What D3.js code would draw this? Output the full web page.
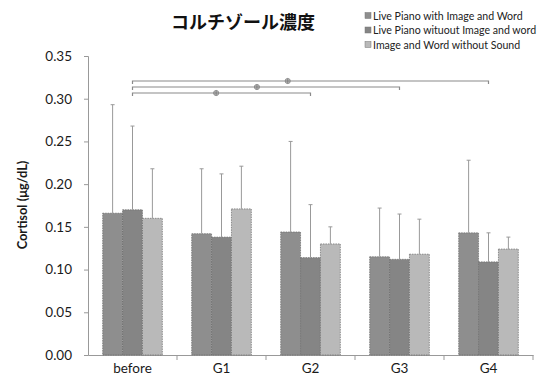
<!DOCTYPE html>
<html><head><meta charset="utf-8">
<script src="https://cdn.jsdelivr.net/npm/d3@7"></script>
<style>body{margin:0;background:#fff}svg{display:block}</style>
</head><body><svg id="c" width="552" height="382"></svg>
<script>
const title = "コルチゾール濃度";
const yTitle = "Cortisol (μg/dL)";
const categories = ["before", "G1", "G2", "G3", "G4"];
const seriesNames = ["Live Piano with Image and Word", "Live Piano wituout Image and word", "Image and Word without Sound"];
const seriesColors = ["#8e8e8e", "#858585", "#b9b9b9"];
const s1 = [0.166, 0.142, 0.144, 0.115, 0.143];
const s2 = [0.170, 0.138, 0.114, 0.112, 0.109];
const s3 = [0.160, 0.171, 0.130, 0.118, 0.124];
const e1 = [0.293, 0.218, 0.250, 0.172, 0.228];
const e2 = [0.268, 0.212, 0.176, 0.165, 0.143];
const e3 = [0.218, 0.221, 0.150, 0.159, 0.138];
const yTicks = [0, 0.05, 0.10, 0.15, 0.20, 0.25, 0.30, 0.35];
const brackets = [
  {from: "before", to: "G2", level: 0, at: 0.47},
  {from: "before", to: "G3", level: 1, at: 0.466},
  {from: "before", to: "G4", level: 2, at: 0.436}
];

const values = [s1, s2, s3];
const errs = [e1, e2, e3];
const svg = d3.select("#c");
const ff = "Lato, 'Open Sans', sans-serif";

const x = d3.scaleBand().domain(categories).range([88, 533]).paddingInner(0.33).paddingOuter(0.165);
const xs = d3.scaleBand().domain([0,1,2]).range([0, x.bandwidth()]);
const y = d3.scaleLinear().domain([0, 0.35]).range([355, 56]);

// title
svg.append("text").attr("x", 243).attr("y", 29).attr("text-anchor", "middle")
  .attr("font-family", "'Noto Sans CJK JP', sans-serif").attr("font-weight", "bold")
  .attr("font-size", 18).attr("fill", "#111").text(title);

// legend
const lg = svg.append("g");
seriesNames.forEach((n, i) => {
  const yy = 16 + i * 14.5;
  lg.append("rect").attr("x", 365).attr("y", yy - 3.5).attr("width", 6).attr("height", 6)
    .attr("fill", seriesColors[i]).attr("stroke", "#777").attr("stroke-width", 0.5);
  lg.append("text").attr("x", 373).attr("y", yy + 3.8).attr("font-family", ff)
    .attr("font-size", 10.6).attr("fill", "#222").text(n);
});

// y axis
const ya = svg.append("g").attr("transform", "translate(88,0)")
  .call(d3.axisLeft(y).tickValues(yTicks).tickFormat(d3.format(".2f")).tickSize(4).tickPadding(12));
ya.select(".domain").attr("stroke", "#999");
ya.selectAll(".tick line").attr("stroke", "#999");
ya.selectAll("text").attr("font-family", ff).attr("font-size", 13.5).attr("fill", "#1a1a1a");

svg.append("text").attr("transform", "translate(27,205) rotate(-90)").attr("text-anchor", "middle")
  .attr("font-family", ff).attr("font-weight", "bold").attr("font-size", 12.8).attr("fill", "#1a1a1a").text(yTitle);

// x axis
const xa = svg.append("g").attr("transform", "translate(0,355)")
  .call(d3.axisBottom(x).tickSize(0).tickPadding(8));
xa.select(".domain").attr("stroke", "#999");
xa.selectAll("text").attr("font-family", ff).attr("font-size", 13.5).attr("fill", "#1a1a1a");
const step = x.step();
const bounds = categories.map(c => x(c) - (step - x.bandwidth()) / 2).concat([533]);
svg.append("g").selectAll("line").data(bounds.slice(1)).join("line")
  .attr("x1", d => d).attr("x2", d => d).attr("y1", 355).attr("y2", 360).attr("stroke", "#999");

// bars
values.forEach((vals, si) => {
  const g = svg.append("g");
  g.selectAll("rect").data(categories).join("rect")
    .attr("x", c => x(c) + xs(si)).attr("width", xs.bandwidth())
    .attr("y", (c, i) => y(vals[i])).attr("height", (c, i) => y(0) - y(vals[i]))
    .attr("fill", seriesColors[si]).attr("stroke", "#6a6a6a").attr("stroke-width", 0.7)
    .attr("stroke-dasharray", "1.5,1");
  const cx = c => x(c) + xs(si) + xs.bandwidth() / 2;
  g.selectAll("line.e").data(categories).join("line").attr("class", "e")
    .attr("x1", cx).attr("x2", cx)
    .attr("y1", (c, i) => y(vals[i])).attr("y2", (c, i) => y(errs[si][i]))
    .attr("stroke", "#999").attr("stroke-width", 1);
  g.selectAll("line.c").data(categories).join("line").attr("class", "c")
    .attr("x1", c => cx(c) - 2).attr("x2", c => cx(c) + 2)
    .attr("y1", (c, i) => y(errs[si][i])).attr("y2", (c, i) => y(errs[si][i]))
    .attr("stroke", "#999").attr("stroke-width", 1);
});

// brackets
const bx = c => x(c) + xs(1) + xs.bandwidth() / 2;
brackets.forEach(b => {
  const yy = 93 - b.level * 6;
  const x1 = bx(b.from), x2 = bx(b.to);
  svg.append("path").attr("d", `M${x1},${yy + 3}V${yy}H${x2}V${yy + 3}`)
    .attr("fill", "none").attr("stroke", "#8a8a8a").attr("stroke-width", 1.2);
  const mx = x1 + (x2 - x1) * b.at;
  svg.append("circle").attr("cx", mx).attr("cy", yy).attr("r", 2.6)
    .attr("fill", "#bbb").attr("stroke", "#888").attr("stroke-width", 0.8);
  svg.append("path").attr("d", `M${mx - 2.6},${yy}H${mx + 2.6}M${mx},${yy - 2.6}V${yy + 2.6}`)
    .attr("stroke", "#777").attr("stroke-width", 0.8);
});
</script></body></html>
